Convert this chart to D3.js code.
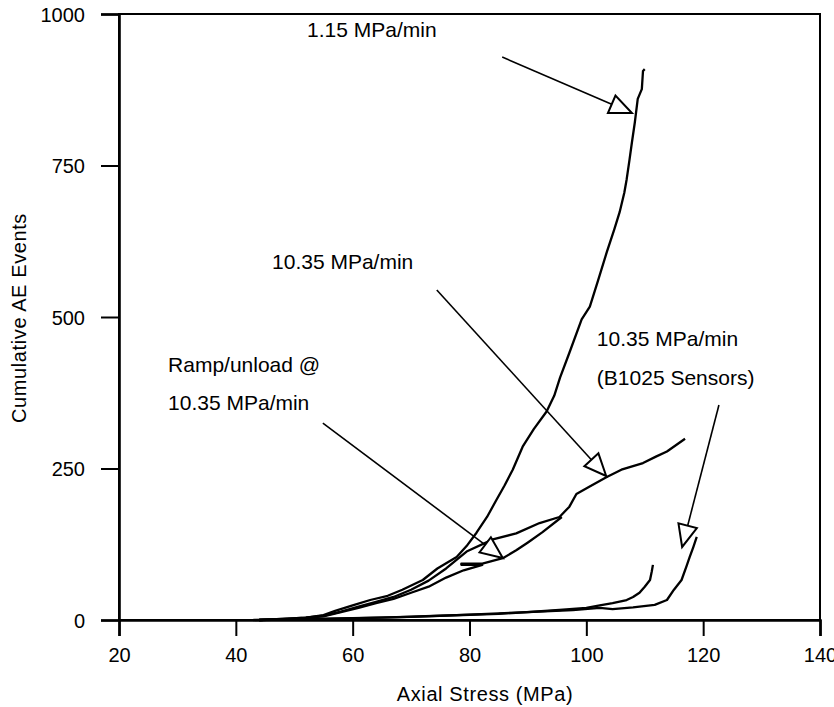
<!DOCTYPE html>
<html>
<head>
<meta charset="utf-8">
<script src="https://cdn.jsdelivr.net/npm/d3@7"></script>
<style>
  body { margin: 0; background: #fff; }
  svg text { font-family: Arial, "Liberation Sans", Helvetica, sans-serif; fill: #000; }
  .curve { fill: none; stroke: #000; stroke-width: 2.3; stroke-linejoin: round; }
</style>
</head>
<body>
<svg id="chart"></svg>
<script>
// cumulative AE events vs axial stress, [stress MPa, events]
var rate115 = [[44,0],[48,2],[52,4],[55,8],[57,15],[60,24],[63,33],[66,40],[68.5,50],[72,66],[74.5,85],[77.8,104],
  [79.5,122],[81.2,144],[83,170],[84.6,198],[86,222],[87.4,248],[89.1,286],[91,315],[93.2,344],[94.5,370],
  [95.5,400],[97.1,441],[99.2,496],[100.6,517],[102,560],[103.5,607],[104.8,645],[105.7,673],[106.5,705],
  [106.9,727],[107.4,760],[107.8,788],[108.3,821],[108.8,860],[109.5,876],[109.7,906],[110,909]];

var rate1035 = [[44,0],[48,2],[52,4],[55,7],[58,14],[61,22],[64,30],[67,38],[70,50],[73,65],[76,85],[79.5,113],
  [84,133],[88,143],[92,160],[95.4,170],[97.1,187],[98.3,208],[100.5,220],[103.5,236],[106,248],[109.7,259],
  [112,270],[113.8,278],[116.9,299]];

var rampUnload = [[44,0],[50,2],[55,6],[58,13],[61,20],[64,28],[67,35],[70,45],[73,55],[76,70],[79,82],[82.2,91],
  [78.6,91],[78.6,93],[82.2,93],[85.7,102],[88,115],[90,128],[92.5,145],[95.8,170]];

var b1025a = [[43,0],[50,1],[60,3],[70,5],[80,9],[90,13],[97.7,16.5],[102.3,20],[104.5,18],[108,21],[111.7,25],
  [113.8,33],[115,50],[116.3,66],[117.2,90],[117.7,104],[118.3,120],[118.9,137]];

var b1025b = [[44,0],[55,2],[65,4],[75,7],[85,10],[95.4,16.5],[100,20],[102.3,24],[104.5,28],[106.9,33],
  [108,38],[109.1,45],[110,55],[110.9,66],[111.2,80],[111.4,91]];

var xTicks = [20, 40, 60, 80, 100, 120, 140];
var yTicks = [0, 250, 500, 750, 1000];

// annotation labels and arrows (data units)
var labels = [
  {text: "1.15 MPa/min", x: 52.2, y: 962},
  {text: "10.35 MPa/min", x: 46.2, y: 579},
  {text: "10.35 MPa/min", x: 101.8, y: 452},
  {text: "(B1025 Sensors)", x: 101.8, y: 388},
  {text: "Ramp/unload @", x: 28.4, y: 409},
  {text: "10.35 MPa/min", x: 28.4, y: 346.5}
];
var arrows = [
  {x1: 85.6, y1: 929, x2: 107.8, y2: 836.6},
  {x1: 74.4, y1: 544.6, x2: 103.4, y2: 237.6},
  {x1: 54.9, y1: 325, x2: 85.7, y2: 102.3},
  {x1: 122.7, y1: 354.8, x2: 116.4, y2: 120.5}
];

var margin = {top: 14, right: 14, bottom: 87, left: 119},
    width = 834 - margin.left - margin.right,
    height = 707 - margin.top - margin.bottom;

var svg = d3.select("#chart")
    .attr("width", 834)
    .attr("height", 707)
  .append("g")
    .attr("transform", "translate(" + margin.left + "," + margin.top + ")");

var x = d3.scaleLinear().domain([20, 140]).range([0, width]);
var y = d3.scaleLinear().domain([0, 1000]).range([height, 0]);

// frame
svg.append("rect")
   .attr("width", width).attr("height", height)
   .attr("fill", "none").attr("stroke", "#000").attr("stroke-width", 2);

var xAxis = svg.append("g")
   .attr("transform", "translate(0," + height + ")")
   .call(d3.axisBottom(x).tickValues(xTicks).tickSize(16).tickPadding(12).tickFormat(d3.format("d")));

var yAxis = svg.append("g")
   .call(d3.axisLeft(y).tickValues(yTicks).tickSize(18).tickPadding(16).tickFormat(d3.format("d")));

[xAxis, yAxis].forEach(function(a) {
  a.select(".domain").attr("stroke-width", 2.6);
  a.selectAll(".tick line").attr("stroke-width", 2);
  a.selectAll(".tick text").style("font-size", "20px").attr("font-family", null);
});
yAxis.selectAll(".tick text").attr("dy", "0.35em");

svg.append("text")
   .attr("x", 366)
   .attr("y", height + 81)
   .attr("text-anchor", "middle")
   .style("font-size", "20px")
   .style("letter-spacing", "0.6px")
   .text("Axial Stress (MPa)");

svg.append("text")
   .attr("transform", "rotate(-90)")
   .attr("x", -304)
   .attr("y", -93)
   .attr("text-anchor", "middle")
   .style("font-size", "20px")
   .style("letter-spacing", "0.6px")
   .text("Cumulative AE Events");

var line = d3.line()
    .x(function(d) { return x(d[0]); })
    .y(function(d) { return y(d[1]); });

[b1025b, b1025a, rampUnload, rate1035, rate115].forEach(function(s) {
  svg.append("path").datum(s).attr("class", "curve").attr("d", line);
});

// arrows with open triangle heads
arrows.forEach(function(a) {
  var sx = x(a.x1), sy = y(a.y1), tx = x(a.x2), ty = y(a.y2);
  var len = Math.sqrt((tx - sx) * (tx - sx) + (ty - sy) * (ty - sy));
  var ux = (tx - sx) / len, uy = (ty - sy) / len;
  var bx = tx - 22 * ux, by = ty - 22 * uy;
  svg.append("line")
     .attr("x1", sx).attr("y1", sy).attr("x2", bx).attr("y2", by)
     .attr("stroke", "#000").attr("stroke-width", 1.6);
  svg.append("polygon")
     .attr("points", [[tx, ty], [bx - 9.5 * uy, by + 9.5 * ux], [bx + 9.5 * uy, by - 9.5 * ux]].join(" "))
     .attr("fill", "#fff").attr("stroke", "#000").attr("stroke-width", 2).attr("stroke-linejoin", "miter");
});

svg.selectAll(".label")
   .data(labels)
   .enter().append("text")
   .attr("class", "label")
   .attr("x", function(d) { return x(d.x); })
   .attr("y", function(d) { return y(d.y); })
   .style("font-size", "21px")
   .text(function(d) { return d.text; });
</script>
</body>
</html>
